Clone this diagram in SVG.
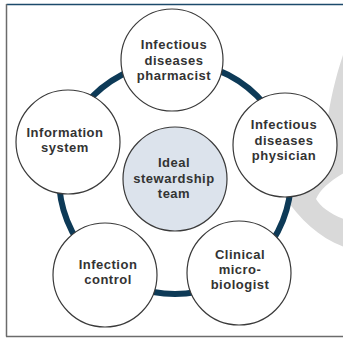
<svg xmlns="http://www.w3.org/2000/svg" width="343" height="338" viewBox="0 0 343 338">
<style>
.node circle{fill:#fff;stroke:#3a3a3a;stroke-width:1.2}
.node.center circle{fill:#dce3ec}
text{font-family:"Liberation Sans",Arial,sans-serif;font-weight:bold;font-size:13px;fill:#333;text-anchor:middle;letter-spacing:0.5px}
</style>
<rect x="0" y="0" width="343" height="338" fill="#fff"/>
<path d="M344,52 C336,75 330,100 326,130 C320,165 300,185 284,196 C300,220 320,238 344,247 L344,219 C330,214 320,206 316,199 C320,190 330,181 344,173 Z" fill="#d9d9d9"/>
<line x1="6.5" y1="4.5" x2="343" y2="4.5" stroke="#1c4a6b" stroke-width="1.6"/>
<line x1="6.5" y1="4" x2="6.5" y2="336.5" stroke="#6b6b6b" stroke-width="1.5"/>
<line x1="6" y1="336.5" x2="343" y2="336.5" stroke="#6b6b6b" stroke-width="1.5"/>
<g id="connectors">
<circle cx="175" cy="178" r="116" fill="none" stroke="#0d3a57" stroke-width="6"/>
</g>
<g id="node-center" class="node center">
<circle cx="175" cy="179" r="52"/>
<text x="174" y="167">Ideal</text>
<text x="174" y="182.5">stewardship</text>
<text x="174" y="197.5">team</text>
</g>
<g id="node-pharmacist" class="node">
<circle cx="172" cy="60" r="51"/>
<text x="174" y="48.5">Infectious</text>
<text x="174" y="64.5">diseases</text>
<text x="174" y="79.5">pharmacist</text>
</g>
<g id="node-physician" class="node">
<circle cx="285" cy="145" r="52"/>
<text x="284" y="128.5">Infectious</text>
<text x="284" y="144.5">diseases</text>
<text x="284" y="159.5">physician</text>
</g>
<g id="node-microbiologist" class="node">
<circle cx="239" cy="273" r="52"/>
<text x="240" y="258.5">Clinical</text>
<text x="240" y="274">micro-</text>
<text x="240" y="288.5">biologist</text>
</g>
<g id="node-infection-control" class="node">
<circle cx="105" cy="275" r="52"/>
<text x="108" y="268.5">Infection</text>
<text x="108" y="283.5">control</text>
</g>
<g id="node-information" class="node">
<circle cx="68" cy="142" r="52"/>
<text x="65" y="136.5">Information</text>
<text x="65" y="152">system</text>
</g>
</svg>
